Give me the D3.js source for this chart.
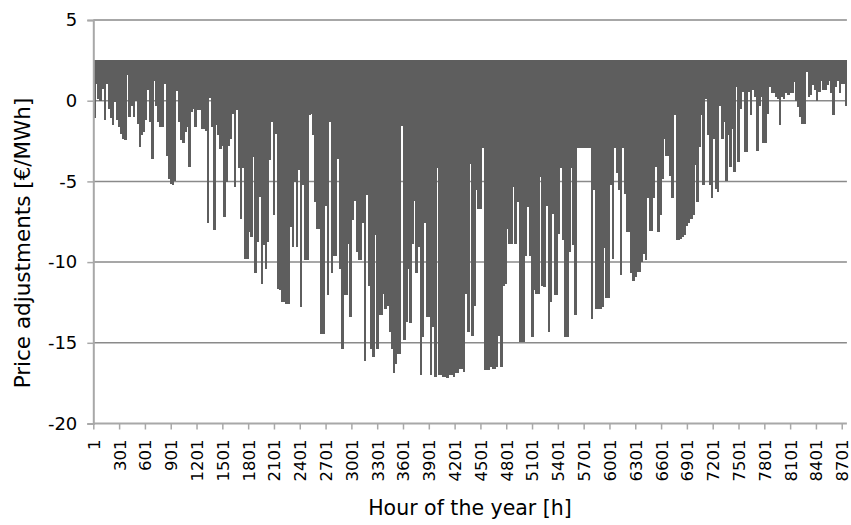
<!DOCTYPE html>
<html>
<head>
<meta charset="utf-8">
<script src="https://cdn.jsdelivr.net/npm/d3@7"></script>
<style>
  html, body { margin: 0; padding: 0; background: #ffffff; }
  svg { display: block; }
  text { font-family: "DejaVu Sans", Verdana, sans-serif; fill: #000; }
</style>
</head>
<body>
<svg id="chart" width="851" height="525"></svg>
<script>
// Hourly price adjustments [€/MWh], summarised per day of the year (24 h each):
// lowest and highest hourly value of every day.
const dayMin = [
  -1.1, 1.05, 0.1, 0.0, 0.75, -1.2, 1.05, -0.5, -1.1, -1.5,
  -0.1, -1.2, -1.6, -2.05, -2.35, -2.45, 1.6, -1.0, -0.3, -1.0,
  0.0, -1.45, -2.85, -2.15, -1.95, -1.2, 0.65, -1.3, -3.6, 1.25,
  -0.3, -1.3, -1.65, -1.65, 1.05, -3.4, -4.85, -5.15, -5.25, -4.95,
  0.6, -1.3, -2.45, -2.65, -1.95, -1.65, -4.1, -0.7, -0.5, -1.6,
  -0.6, -0.6, -1.75, -1.75, -1.85, -7.6, 0.15, -1.6, -8.0, -1.5,
  -2.15, -3.0, -2.8, -7.2, -5.05, -2.8, -2.35, -0.8, -5.35, -0.6,
  -4.2, -7.3, -4.2, -9.8, -9.8, -8.15, -8.45, -3.5, -10.7, -8.75,
  -5.95, -11.35, -8.95, -10.4, -8.75, -3.7, -1.3, -7.1, -2.05, -11.65,
  -11.75, -12.5, -12.5, -12.6, -12.6, -7.85, -9.05, -5.05, -9.05, -4.3,
  -12.8, -5.25, -9.9, -9.9, -0.9, -0.85, -2.15, -6.3, -7.95, -7.95,
  -14.45, -14.45, -6.5, -12.05, -1.3, -10.7, -9.6, -9.6, -3.6, -10.4,
  -15.4, -12.05, -12.05, -8.85, -13.4, -7.4, -6.2, -9.4, -9.9, -9.9,
  -7.6, -16.1, -5.85, -11.45, -15.4, -15.9, -8.35, -15.4, -13.3, -13.3,
  -12.0, -12.9, -12.7, -14.35, -15.4, -16.9, -16.3, -15.7, -15.7, -1.55,
  -14.85, -13.7, -10.4, -13.8, -8.85, -6.2, -10.7, -9.05, -17.0, -14.65,
  -7.6, -13.4, -13.4, -17.0, -14.0, -17.1, -4.2, -17.0, -17.0, -17.1,
  -17.1, -17.2, -17.0, -17.0, -17.1, -16.9, -16.9, -16.6, -16.6, -16.8,
  -12.0, -14.35, -3.9, -14.55, -12.7, -5.55, -6.7, -6.7, -2.95, -16.7,
  -16.7, -16.7, -16.5, -16.6, -16.6, -16.5, -14.55, -16.5, -11.45, -11.35,
  -7.95, -8.85, -8.85, -5.35, -8.85, -6.3, -14.95, -14.95, -14.95, -9.6,
  -6.6, -9.6, -14.65, -11.75, -12.0, -12.0, -4.75, -11.45, -11.55, -6.5,
  -14.35, -12.5, -7.0, -12.05, -12.05, -8.25, -4.2, -8.65, -14.65, -14.65,
  -9.4, -4.2, -8.95, -13.3, -2.95, -2.93, -2.93, -2.93, -2.93, -2.93,
  -2.93, -13.5, -5.55, -12.9, -12.9, -12.9, -12.8, -9.15, -12.25, -12.25,
  -5.25, -9.8, -2.95, -4.5, -5.55, -10.8, -2.95, -5.75, -8.15, -8.15,
  -10.7, -11.15, -10.9, -10.6, -10.6, -10.0, -9.5, -9.9, -6.05, -8.05,
  -8.05, -6.05, -4.1, -8.15, -7.1, -4.85, -2.35, -3.4, -3.4, -4.65,
  -6.05, -0.9, -8.65, -8.65, -8.55, -8.45, -8.35, -7.75, -7.6, -7.3,
  -7.1, -4.0, -6.3, -2.85, -0.9, -5.25, 0.1, -2.15, -5.25, -6.05,
  -2.35, -5.45, -5.65, -0.3, -2.35, -1.3, -4.95, -2.15, -4.1, -1.75,
  -4.4, 0.85, -3.8, -0.5, 0.55, -3.2, -3.2, 0.55, -0.9, 0.65,
  0.25, -3.1, -0.3, 0.25, -2.65, -2.65, -0.8, 0.85, 0.45, 0.45,
  0.25, 0.1, -1.5, 0.25, 0.1, 0.45, 0.35, 0.45, 0.45, 1.15,
  0.0, -0.4, -1.0, -1.45, -1.45, 1.8, 0.25, 0.35, 0.95, 0.65,
  0.0, 0.55, 1.25, 0.65, 0.65, 0.95, 1.25, 0.45, -0.9, 0.85,
  1.25, 0.45, 1.05, 1.05, -0.3
];

const dayMax = [
  2.5, 2.5, 2.5, 2.5, 2.5, 2.5, 2.5, 2.5, 2.5, 2.5, 2.5, 2.5, 2.5, 2.5, 2.5, 2.5, 2.5, 2.5, 2.5, 2.5,
  2.5, 2.5, 2.5, 2.5, 2.5, 2.5, 2.5, 2.5, 2.5, 2.5, 2.5, 2.5, 2.5, 2.5, 2.5, 2.5, 2.5, 2.5, 2.5, 2.5,
  2.5, 2.5, 2.5, 2.5, 2.5, 2.5, 2.5, 2.5, 2.5, 2.5, 2.5, 2.5, 2.5, 2.5, 2.5, 2.5, 2.5, 2.5, 2.5, 2.5,
  2.5, 2.5, 2.5, 2.5, 2.5, 2.5, 2.5, 2.5, 2.5, 2.5, 2.5, 2.5, 2.5, 2.5, 2.5, 2.5, 2.5, 2.5, 2.5, 2.5,
  2.5, 2.5, 2.5, 2.5, 2.5, 2.5, 2.5, 2.5, 2.5, 2.5, 2.5, 2.5, 2.5, 2.5, 2.5, 2.5, 2.5, 2.5, 2.5, 2.5,
  2.5, 2.5, 2.5, 2.5, 2.5, 2.5, 2.5, 2.5, 2.5, 2.5, 2.5, 2.5, 2.5, 2.5, 2.5, 2.5, 2.5, 2.5, 2.5, 2.5,
  2.5, 2.5, 2.5, 2.5, 2.5, 2.5, 2.5, 2.5, 2.5, 2.5, 2.5, 2.5, 2.5, 2.5, 2.5, 2.5, 2.5, 2.5, 2.5, 2.5,
  2.5, 2.5, 2.5, 2.5, 2.5, 2.5, 2.5, 2.5, 2.5, 2.5, 2.5, 2.5, 2.5, 2.5, 2.5, 2.5, 2.5, 2.5, 2.5, 2.5,
  2.5, 2.5, 2.5, 2.5, 2.5, 2.5, 2.5, 2.5, 2.5, 2.5, 2.5, 2.5, 2.5, 2.5, 2.5, 2.5, 2.5, 2.5, 2.5, 2.5,
  2.5, 2.5, 2.5, 2.5, 2.5, 2.5, 2.5, 2.5, 2.5, 2.5, 2.5, 2.5, 2.5, 2.5, 2.5, 2.5, 2.5, 2.5, 2.5, 2.5,
  2.5, 2.5, 2.5, 2.5, 2.5, 2.5, 2.5, 2.5, 2.5, 2.5, 2.5, 2.5, 2.5, 2.5, 2.5, 2.5, 2.5, 2.5, 2.5, 2.5,
  2.5, 2.5, 2.5, 2.5, 2.5, 2.5, 2.5, 2.5, 2.5, 2.5, 2.5, 2.5, 2.5, 2.5, 2.5, 2.5, 2.5, 2.5, 2.5, 2.5,
  2.5, 2.5, 2.5, 2.5, 2.5, 2.5, 2.5, 2.5, 2.5, 2.5, 2.5, 2.5, 2.5, 2.5, 2.5, 2.5, 2.5, 2.5, 2.5, 2.5,
  2.5, 2.5, 2.5, 2.5, 2.5, 2.5, 2.5, 2.5, 2.5, 2.5, 2.5, 2.5, 2.5, 2.5, 2.5, 2.5, 2.5, 2.5, 2.5, 2.5,
  2.5, 2.5, 2.5, 2.5, 2.5, 2.5, 2.5, 2.5, 2.5, 2.5, 2.5, 2.5, 2.5, 2.5, 2.5, 2.5, 2.5, 2.5, 2.5, 2.5,
  2.5, 2.5, 2.5, 2.5, 2.5, 2.5, 2.5, 2.5, 2.5, 2.5, 2.5, 2.5, 2.5, 2.5, 2.5, 2.5, 2.5, 2.5, 2.5, 2.5,
  2.5, 2.5, 2.5, 2.5, 2.5, 2.5, 2.5, 2.5, 2.5, 2.5, 2.5, 2.5, 2.5, 2.5, 2.5, 2.5, 2.5, 2.5, 2.5, 2.5,
  2.5, 2.5, 2.5, 2.5, 2.5, 2.5, 2.5, 2.5, 2.5, 2.5, 2.5, 2.5, 2.5, 2.5, 2.5, 2.5, 2.5, 2.5, 2.5, 2.5,
  2.5, 2.5, 2.5, 2.5, 2.5
];

const hoursPerDay = 24;
const xTickHours = [1, 301, 601, 901, 1201, 1501, 1801, 2101, 2401, 2701, 3001, 3301, 3601, 3901,
                    4201, 4501, 4801, 5101, 5401, 5701, 6001, 6301, 6601, 6901, 7201, 7501, 7801,
                    8101, 8401, 8701];
const yTickValues = [5, 0, -5, -10, -15, -20];
const yGridValues = [5, 0, -5, -10, -15];

const xTitle = "Hour of the year [h]";
const yTitle = "Price adjustments [€/MWh]";

// ---- layout ----
const plot = { left: 93.3, right: 846.9, top: 20, bottom: 423.5 };
const barColor = "#5e5e5e";
const gridColor = "#8a8a8a";
const axisColor = "#a8a8a8";
const fontFamily = "'DejaVu Sans', Verdana, sans-serif";

const svg = d3.select("#chart");
svg.append("rect").attr("width", 851).attr("height", 525).attr("fill", "#ffffff");

const x = d3.scaleLinear().domain([1, 8761]).range([plot.left, plot.right]);
const y = d3.scaleLinear().domain([-20, 5]).range([plot.bottom, plot.top]);

// horizontal gridlines
svg.append("g").selectAll("line").data(yGridValues).join("line")
  .attr("x1", plot.left).attr("x2", plot.right)
  .attr("y1", d => y(d)).attr("y2", d => y(d))
  .attr("stroke", gridColor).attr("stroke-width", 1.5);

// daily range of hourly values
const days = dayMin.map((mn, i) => ({ day: i, min: mn, max: dayMax[i] }));
svg.append("g").attr("shape-rendering", "crispEdges")
  .selectAll("rect").data(days).join("rect")
  .attr("x", d => x(d.day * hoursPerDay + 1))
  .attr("width", d => x((d.day + 1) * hoursPerDay + 1) - x(d.day * hoursPerDay + 1) + 0.5)
  .attr("y", d => y(d.max))
  .attr("height", d => y(d.min) - y(d.max))
  .attr("fill", barColor);

// y axis
const yAxis = d3.axisLeft(y).tickValues(yTickValues).tickSize(6).tickPadding(10)
  .tickFormat(d => String(d));
const gy = svg.append("g").attr("transform", `translate(${plot.left},0)`).call(yAxis);
gy.select(".domain").attr("stroke", axisColor).attr("stroke-width", 2);
gy.selectAll(".tick line").attr("stroke", axisColor).attr("stroke-width", 1.5);
gy.selectAll(".tick text")
  .style("font-family", fontFamily)
  .style("font-size", "18px").attr("fill", "#000");

// x axis
const xAxis = d3.axisBottom(x).tickValues(xTickHours).tickSize(6).tickPadding(0)
  .tickFormat(d => String(d));
const gx = svg.append("g").attr("transform", `translate(0,${plot.bottom})`).call(xAxis);
gx.select(".domain").attr("stroke", axisColor).attr("stroke-width", 2)
  .attr("d", `M${plot.left},0H${plot.right}`);
gx.selectAll(".tick line").attr("stroke", axisColor).attr("stroke-width", 1.5);
gx.selectAll(".tick text")
  .style("font-family", fontFamily)
  .style("font-size", "16.5px").attr("fill", "#000")
  .attr("text-anchor", "end")
  .attr("dy", "0.36em")
  .attr("transform", "translate(0,16) rotate(-90)")
  .attr("x", 0).attr("y", 0);

// axis titles
svg.append("text")
  .attr("x", 470).attr("y", 515)
  .attr("text-anchor", "middle")
  .style("font-family", fontFamily)
  .style("font-size", "20.5px")
  .text(xTitle);

svg.append("text")
  .attr("transform", "translate(30,243) rotate(-90)")
  .attr("text-anchor", "middle")
  .style("font-family", fontFamily)
  .style("font-size", "21.5px")
  .text(yTitle);
</script>
</body>
</html>
